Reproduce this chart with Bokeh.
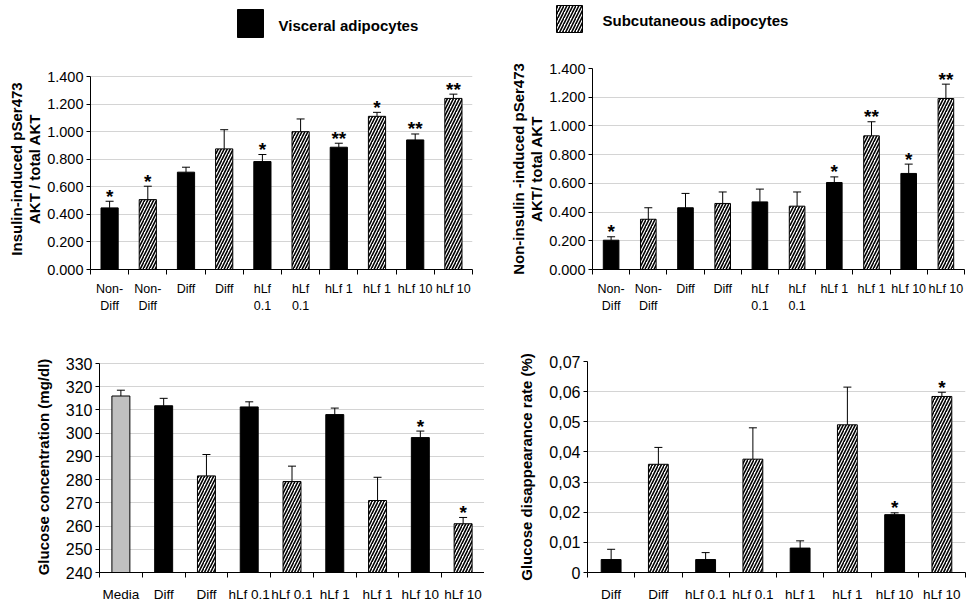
from bokeh.plotting import figure
from bokeh.layouts import column, row
from bokeh.models import (Range1d, FixedTicker, ColumnDataSource, Whisker, TeeHead,
                          CustomJSTickFormatter, PrintfTickFormatter)
from bokeh.core.properties import value
from bokeh.embed import file_html
from bokeh.resources import INLINE

FONT = "Liberation Sans"

# ---------------- data ----------------
legend_labels = ["Visceral adipocytes", "Subcutaneous adipocytes"]

a_labels = ["Non-\nDiff", "Non-\nDiff", "Diff", "Diff", "hLf\n0.1", "hLf\n0.1",
            "hLf 1", "hLf 1", "hLf 10", "hLf 10"]
a_types = ["v", "s", "v", "s", "v", "s", "v", "s", "v", "s"]
a_values = [0.447, 0.507, 0.706, 0.875, 0.783, 1.000, 0.887, 1.111, 0.940, 1.241]
a_upper = [0.495, 0.604, 0.742, 1.014, 0.834, 1.092, 0.916, 1.140, 0.983, 1.272]
a_marks = ["*", "*", "", "", "*", "", "**", "*", "**", "**"]
a_ticks = [0.0, 0.2, 0.4, 0.6, 0.8, 1.0, 1.2, 1.4]

b_labels = a_labels
b_types = a_types
b_values = [0.204, 0.350, 0.430, 0.460, 0.471, 0.441, 0.606, 0.931, 0.669, 1.191]
b_upper = [0.228, 0.430, 0.530, 0.540, 0.560, 0.540, 0.645, 1.029, 0.734, 1.291]
b_marks = ["*", "", "", "", "", "", "*", "**", "*", "**"]
b_ticks = a_ticks

c_labels = ["Media", "Diff", "Diff", "hLf 0.1", "hLf 0.1", "hLf 1", "hLf 1", "hLf 10", "hLf 10"]
c_types = ["m", "v", "s", "v", "s", "v", "s", "v", "s"]
c_values = [316.0, 311.8, 281.6, 311.3, 279.2, 308.0, 271.0, 298.1, 261.0]
c_upper = [318.5, 315.0, 290.8, 313.5, 285.8, 310.8, 281.0, 300.9, 263.7]
c_marks = ["", "", "", "", "", "", "", "*", "*"]
c_ticks = [240, 250, 260, 270, 280, 290, 300, 310, 320, 330]

d_labels = ["Diff", "Diff", "hLf 0.1", "hLf 0.1", "hLf 1", "hLf 1", "hLf 10", "hLf 10"]
d_types = ["v", "s", "v", "s", "v", "s", "v", "s"]
d_values = [0.0043, 0.0359, 0.0043, 0.0376, 0.0081, 0.0490, 0.0192, 0.0584]
d_upper = [0.0077, 0.0415, 0.0066, 0.0480, 0.0105, 0.0615, 0.0198, 0.0598]
d_marks = ["", "", "", "", "", "", "*", "*"]
d_ticks = [0.0, 0.01, 0.02, 0.03, 0.04, 0.05, 0.06, 0.07]

FILL = {"v": "black", "s": "white", "m": "#c0c0c0"}
HATCH = {"v": " ", "s": "/", "m": " "}


def panel(width, height, bl, br, bt, bb, labels, types, vals, upper, marks, yticks,
          ylabel, yfmt, bar_w, xfs, yfs, xstand, lab_lh, top_pad_px, lab_standoff):
    n = len(labels)
    y0, y1 = yticks[0], yticks[-1]
    frame_h = height - bt - bb
    # extra headroom above the last tick (frame top sits higher than the top gridline)
    y_end = y1 + (y1 - y0) * top_pad_px / (frame_h - top_pad_px)
    p = figure(width=width, height=height, x_range=Range1d(0, n), y_range=Range1d(y0, y_end),
               output_backend="svg", toolbar_location=None,
               min_border_left=bl, min_border_right=br, min_border_top=bt, min_border_bottom=bb,
               outline_line_color=None, background_fill_color="white")
    xs = [i + 0.5 for i in range(n)]
    src = ColumnDataSource(dict(
        x=xs, top=vals, upper=upper, mark=marks,
        color=[FILL[t] for t in types], hatch=[HATCH[t] for t in types]))
    p.vbar(x="x", top="top", bottom=y0, width=bar_w, source=src,
           fill_color="color", line_color="black", line_width=1,
           hatch_pattern="hatch", hatch_color="black", hatch_scale=6, hatch_weight=1.6)
    p.add_layout(Whisker(source=src, base="x", lower="top", upper="upper",
                         line_color="black", line_width=1, lower_head=None,
                         upper_head=TeeHead(size=8, line_color="black", line_width=1),
                         level="glyph"))
    p.text(x="x", y="upper", text="mark", source=src, text_align="center",
           text_baseline="alphabetic", text_font=value(FONT), text_font_style="bold",
           text_font_size="19px", text_color="black", y_offset=-5)

    p.xgrid.visible = False
    p.ygrid.grid_line_color = "#d4d4d4"
    p.ygrid.grid_line_width = 1

    xa = p.xaxis[0]
    xa.ticker = FixedTicker(ticks=xs, minor_ticks=list(range(n + 1)))
    xa.major_label_overrides = {x: lab for x, lab in zip(xs, labels)}
    xa.major_tick_out = 0
    xa.major_tick_in = 0
    xa.minor_tick_out = 5
    xa.minor_tick_in = 0
    xa.minor_tick_line_color = "black"
    xa.axis_line_color = "black"
    xa.major_label_text_font = FONT
    xa.major_label_text_font_size = xfs
    xa.major_label_text_color = "black"
    xa.major_label_standoff = xstand
    xa.major_label_text_line_height = lab_lh

    ya = p.yaxis[0]
    ya.ticker = FixedTicker(ticks=yticks, minor_ticks=[])
    ya.bounds = (y0, y1)
    ya.formatter = yfmt
    ya.major_tick_out = 4
    ya.major_tick_in = 0
    ya.minor_tick_out = 0
    ya.minor_tick_in = 0
    ya.axis_line_color = "black"
    ya.major_tick_line_color = "black"
    ya.major_label_text_font = FONT
    ya.major_label_text_font_size = yfs
    ya.major_label_text_color = "black"
    ya.major_label_standoff = 3
    ya.axis_label = ylabel
    ya.axis_label_text_font = FONT
    ya.axis_label_text_font_style = "bold"
    ya.axis_label_text_font_size = "15px"
    ya.axis_label_text_color = "black"
    ya.axis_label_standoff = lab_standoff
    ya.axis_label_text_line_height = 1.1
    return p


fmt3 = PrintfTickFormatter(format="%.3f")
fmt_int = PrintfTickFormatter(format="%d")
fmt_comma = CustomJSTickFormatter(code="return tick == 0 ? '0' : tick.toFixed(2).replace('.', ',');")

pa = panel(484, 270, 90, 12, 10, 59, a_labels, a_types, a_values, a_upper, a_marks, a_ticks,
           "Insulin-induced pSer473\nAKT / total AKT", fmt3, 0.45, "12.5px", "14.5px", 7, 1.25,
           8, 1)
pb = panel(484, 270, 108, 4, 10, 59, b_labels, b_types, b_values, b_upper, b_marks, b_ticks,
           "Non-insulin -induced pSer473\nAKT/ total AKT", fmt3, 0.42, "12.5px", "14.5px", 7, 1.25,
           0, 1)
pc = panel(484, 277, 99, 0, 33, 33, c_labels, c_types, c_values, c_upper, c_marks, c_ticks,
           "Glucose concentration (mg/dl)", fmt_int, 0.42, "13.5px", "16px", 9, 1.0,
           2, 11)
pd = panel(484, 277, 103, 3, 33, 33, d_labels, d_types, d_values, d_upper, d_marks, d_ticks,
           "Glucose disappearance rate (%)", fmt_comma, 0.42, "13.5px", "16px", 9, 1.0,
           0, 11)

# ---------------- legend strip ----------------
leg = figure(width=968, height=58, x_range=Range1d(0, 968), y_range=Range1d(58, 0),
             output_backend="svg", toolbar_location=None, min_border=0,
             x_axis_type=None, y_axis_type=None, outline_line_color=None)
leg.xgrid.visible = False
leg.ygrid.visible = False
leg_src = ColumnDataSource(dict(
    left=[237, 556], right=[263, 582], top=[9, 5], bottom=[37, 32],
    color=["black", "white"], hatch=[" ", "/"],
    tx=[278, 602], ty=[25, 20], label=legend_labels))
leg.quad(left="left", right="right", top="top", bottom="bottom", source=leg_src,
         fill_color="color", line_color="black", line_width=1,
         hatch_pattern="hatch", hatch_color="black", hatch_scale=6, hatch_weight=1.6)
leg.text(x="tx", y="ty", text="label", source=leg_src, text_baseline="middle",
         text_align="left", text_font=value(FONT), text_font_style="bold",
         text_font_size="15px", text_color="black")

layout = column(leg, row(pa, pb), row(pc, pd))
open("out.html", "w").write(file_html(layout, INLINE))
